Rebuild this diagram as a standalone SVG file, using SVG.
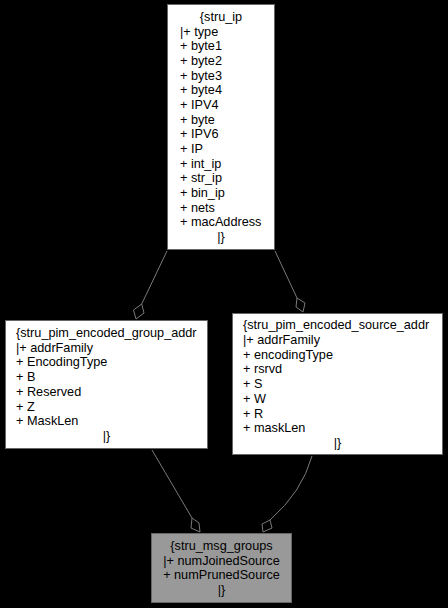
<svg xmlns="http://www.w3.org/2000/svg" width="448" height="608" viewBox="0 0 448 608">
<style>
.bg{fill:#000000}
.box{fill:#ffffff;stroke:#666666;stroke-width:1}
.cur{fill:#999999;stroke:#666666;stroke-width:1}
.t{font-family:"Liberation Sans",Arial,sans-serif;font-size:12.7px;fill:#000000}
.m{text-anchor:middle}
.edge{fill:none;stroke:#7a7a7a;stroke-width:1}
.dia{fill:none;stroke:#7a7a7a;stroke-width:1}
</style>
<rect class="bg" x="0" y="0" width="448" height="608"/>
<g id="connectors">
<path class="edge" d="M167,251 L141.7,304"/>
<polygon class="dia" points="141.7,304 133.5,310 136,319 144,313"/>
<path class="edge" d="M275,251 L297,298"/>
<polygon class="dia" points="297,298 305,303 303,312 296,307"/>
<path class="edge" d="M152,450 Q172,484 192,518"/>
<polygon class="dia" points="192,518 199,523 200,532 191,528"/>
<path class="edge" d="M312,456 Q302,492 270,520"/>
<polygon class="dia" points="270,520 272,528 263,532 262,524"/>
</g>
<g id="stru_ip">
<rect class="box" x="167.5" y="4.5" width="107" height="245"/>
<text class="t m" x="221" y="21">{stru_ip</text>
<text class="t" x="180" y="35.7">|+ type</text>
<text class="t" x="180" y="50.3">+ byte1</text>
<text class="t" x="180" y="65">+ byte2</text>
<text class="t" x="180" y="79.7">+ byte3</text>
<text class="t" x="180" y="94.3">+ byte4</text>
<text class="t" x="180" y="109">+ IPV4</text>
<text class="t" x="180" y="123.7">+ byte</text>
<text class="t" x="180" y="138.3">+ IPV6</text>
<text class="t" x="180" y="153">+ IP</text>
<text class="t" x="180" y="167.7">+ int_ip</text>
<text class="t" x="180" y="182.3">+ str_ip</text>
<text class="t" x="180" y="197">+ bin_ip</text>
<text class="t" x="180" y="211.7">+ nets</text>
<text class="t" x="180" y="226.3">+ macAddress</text>
<text class="t m" x="221" y="241">|}</text>
</g>
<g id="stru_pim_encoded_group_addr">
<rect class="box" x="5.5" y="320.5" width="202" height="128"/>
<text class="t" x="16" y="337">{stru_pim_encoded_group_addr</text>
<text class="t" x="16" y="351.7">|+ addrFamily</text>
<text class="t" x="16" y="366.4">+ EncodingType</text>
<text class="t" x="16" y="381.1">+ B</text>
<text class="t" x="16" y="395.8">+ Reserved</text>
<text class="t" x="16" y="410.5">+ Z</text>
<text class="t" x="16" y="425.2">+ MaskLen</text>
<text class="t m" x="106.5" y="439.9">|}</text>
</g>
<g id="stru_pim_encoded_source_addr">
<rect class="box" x="232.5" y="313.5" width="210" height="141"/>
<text class="t" x="243" y="329">{stru_pim_encoded_source_addr</text>
<text class="t" x="243" y="343.8">|+ addrFamily</text>
<text class="t" x="243" y="358.5">+ encodingType</text>
<text class="t" x="243" y="373.3">+ rsrvd</text>
<text class="t" x="243" y="388">+ S</text>
<text class="t" x="243" y="402.8">+ W</text>
<text class="t" x="243" y="417.5">+ R</text>
<text class="t" x="243" y="432.3">+ maskLen</text>
<text class="t m" x="337.5" y="447">|}</text>
</g>
<g id="stru_msg_groups">
<rect class="cur" x="151.5" y="533.5" width="140" height="69"/>
<text class="t m" x="221.5" y="550">{stru_msg_groups</text>
<text class="t m" x="221.5" y="564.5">|+ numJoinedSource</text>
<text class="t m" x="221.5" y="579">+ numPrunedSource</text>
<text class="t m" x="221.5" y="593.5">|}</text>
</g>
</svg>
